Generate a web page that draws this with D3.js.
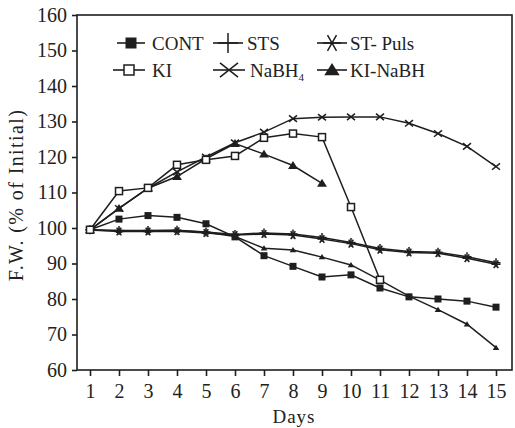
<!DOCTYPE html>
<html><head><meta charset="utf-8">
<script src="https://cdn.jsdelivr.net/npm/d3@7"></script>
<style>
html,body{margin:0;padding:0;background:#fff;}
svg text{font-family:"Liberation Serif","DejaVu Serif",serif;fill:#222;}
</style></head>
<body>
<svg id="c" width="515" height="428"></svg>
<script>
// ---- data ----
const days = [1,2,3,4,5,6,7,8,9,10,11,12,13,14,15];
const yTicks = [60,70,80,90,100,110,120,130,140,150,160];
const cont   = [99.5,102.5,103.5,103,101.2,97.5,92.2,89.2,86.2,86.8,83.1,80.6,80,79.4,77.7];
const sts    = [99.5,99.3,99.3,99.4,98.9,98.2,98.6,98.3,97.3,95.9,94.2,93.4,93.2,91.9,90.2];
const stPuls = [99.5,99.0,99.0,99.1,98.6,98.0,98.3,98.0,96.9,95.6,93.9,93.1,92.9,91.5,89.8];
const ki     = [99.5,110.4,111.3,117.8,119.2,120.3,125.4,126.6,125.6,105.9,85.4];
const nabh4  = [99.5,105.5,111.2,115.8,120,124,127,130.8,131.2,131.3,131.3,129.5,126.6,123,117.3];
const kiNabh = [99.5,105.5,111.2,114.5,119.5,123.8,120.8,117.6,112.6];
const lowTri = [99.4,99.2,99.2,99.3,98.8,97.6,94.3,93.8,91.8,89.6,85.3,80.8,77.0,72.9,66.3];
const legendLabels = ["CONT","STS","ST- Puls","KI","NaBH","KI-NaBH"];

// ---- layout ----
const svg = d3.select("#c");
const ink = "#1e1e1e";
const frame = {l:77, t:15, r:512, b:370};
const x = d3.scaleLinear().domain([1,15]).range([90,496]);
const y = d3.scaleLinear().domain([60,160]).range([370,15]);

// frame
svg.append("rect").attr("x",frame.l).attr("y",frame.t)
  .attr("width",frame.r-frame.l).attr("height",frame.b-frame.t)
  .attr("fill","none").attr("stroke",ink).attr("stroke-width",1.6);

// axes
const gx = svg.append("g").attr("transform",`translate(0,${frame.b})`)
  .call(d3.axisBottom(x).tickValues(days).tickSize(6).tickSizeOuter(0).tickPadding(10));
const gy = svg.append("g").attr("transform",`translate(${frame.l},0)`)
  .call(d3.axisLeft(y).tickValues(yTicks).tickSize(5).tickSizeOuter(0).tickPadding(5));
[gx,gy].forEach(g=>{
  g.select(".domain").remove();
  g.selectAll("line").attr("stroke",ink).attr("stroke-width",1.6);
  g.selectAll("text").attr("font-size",20).attr("font-family","Liberation Serif").attr("fill","#222");
});
gx.selectAll("text").attr("dy","0.6em");

// axis titles
svg.append("text").attr("x",294).attr("y",423).attr("text-anchor","middle")
  .attr("font-size",19).attr("letter-spacing",1).text("Days");
svg.append("text").attr("transform","translate(23,195) rotate(-90)")
  .attr("text-anchor","middle").attr("font-size",20).attr("letter-spacing",1.4)
  .text("F.W. (% of Initial)");

// ---- markers ----
function marker(g, type, cx, cy, s){
  const h = s/2;
  if(type==="fsq"){
    g.append("rect").attr("x",cx-h).attr("y",cy-h).attr("width",s).attr("height",s).attr("fill",ink);
  } else if(type==="osq"){
    g.append("rect").attr("x",cx-h).attr("y",cy-h).attr("width",s).attr("height",s)
      .attr("fill","#fff").attr("stroke",ink).attr("stroke-width",1.5);
  } else if(type==="tri"){
    g.append("path").attr("d",`M${cx},${cy-h}L${cx+h*1.1},${cy+h*0.75}L${cx-h*1.1},${cy+h*0.75}Z`).attr("fill",ink);
  } else if(type==="plus"){
    g.append("path").attr("d",`M${cx-h},${cy}H${cx+h}M${cx},${cy-h}V${cx===cx?cy+h:0}`)
      .attr("stroke",ink).attr("stroke-width",1.5).attr("fill","none");
  } else if(type==="x"){
    g.append("path").attr("d",`M${cx-h},${cy-h*0.8}L${cx+h},${cy+h*0.8}M${cx-h},${cy+h*0.8}L${cx+h},${cy-h*0.8}`)
      .attr("stroke",ink).attr("stroke-width",1.5).attr("fill","none");
  } else if(type==="star"){
    const a = h*0.87, b = h*0.5;
    g.append("path").attr("d",`M${cx-h},${cy}H${cx+h}M${cx-b},${cy-a}L${cx+b},${cy+a}M${cx-b},${cy+a}L${cx+b},${cy-a}`)
      .attr("stroke",ink).attr("stroke-width",1.5).attr("fill","none");
  }
}

const line = d3.line().x((d,i)=>x(days[i])).y(d=>y(d));
const series = [
  {v:lowTri, m:"tri",  s:6},
  {v:stPuls, m:"star", s:9},
  {v:sts,    m:"plus", s:9},
  {v:cont,   m:"fsq",  s:7},
  {v:kiNabh, m:"tri",  s:9},
  {v:nabh4,  m:"x",    s:8},
  {v:ki,     m:"osq",  s:7},
];
const plot = svg.append("g");
series.forEach(sr=>{
  plot.append("path").datum(sr.v).attr("d",line).attr("fill","none")
    .attr("stroke",ink).attr("stroke-width",1.5);
});
series.forEach(sr=>{
  const g = plot.append("g");
  sr.v.forEach((d,i)=>marker(g, sr.m, x(days[i]), y(d), sr.s));
});

// ---- legend ----
const leg = svg.append("g");
const legItems = [
  {m:"fsq",  s:11, x0:117, x1:145, ty:43, tx:152, label:legendLabels[0]},
  {m:"plus", s:20, x0:213, x1:243, ty:43, tx:247, label:legendLabels[1]},
  {m:"star", s:18, x0:317, x1:347, ty:43, tx:350, label:legendLabels[2]},
  {m:"osq",  s:10, x0:113, x1:145, ty:70, tx:152, label:legendLabels[3]},
  {m:"x",    s:18, x0:213, x1:245, ty:70, tx:250, label:legendLabels[4], sub:"4"},
  {m:"tri",  s:14, x0:317, x1:347, ty:70, tx:350, label:legendLabels[5]},
];
legItems.forEach(it=>{
  leg.append("line").attr("x1",it.x0).attr("x2",it.x1).attr("y1",it.ty).attr("y2",it.ty)
    .attr("stroke",ink).attr("stroke-width",1.6);
  marker(leg, it.m, (it.x0+it.x1)/2, it.ty, it.s);
  const t = leg.append("text").attr("x",it.tx).attr("y",it.ty+7).attr("font-size",19).text(it.label);
  if(it.sub) t.append("tspan").attr("font-size",11).attr("dy",4).text(it.sub);
});
</script>
</body></html>
